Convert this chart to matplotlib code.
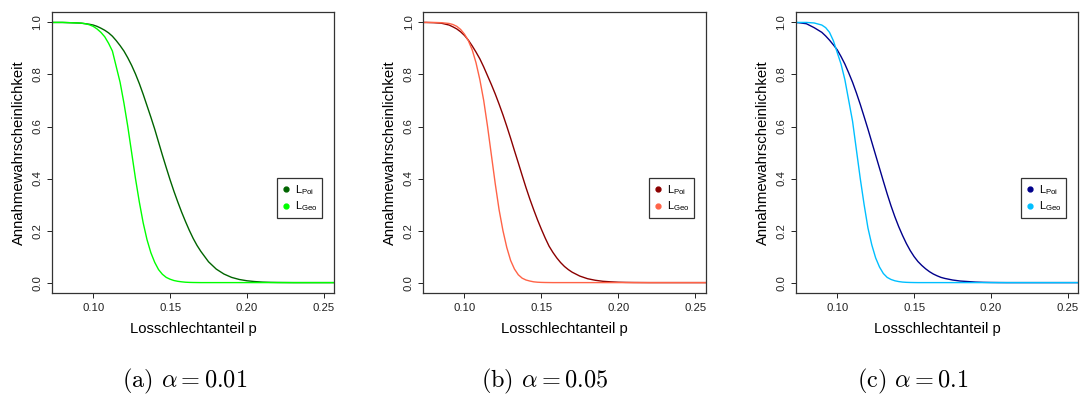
import matplotlib
matplotlib.use("Agg")
import matplotlib.pyplot as plt
from matplotlib.lines import Line2D

plt.rcParams['font.family'] = ['Liberation Sans', 'DejaVu Sans']
plt.rcParams['mathtext.default'] = 'regular'

# Losschlechtanteil p (grid the curves were read on)
p = [0.07, 0.075, 0.08, 0.085,
     0.09, 0.0925, 0.095, 0.0975, 0.10, 0.1025, 0.105, 0.1075,
     0.11, 0.1125, 0.115, 0.1175, 0.12, 0.1225, 0.125, 0.1275,
     0.13, 0.1325, 0.135, 0.1375, 0.14, 0.1425, 0.145, 0.1475,
     0.15, 0.1525, 0.155, 0.1575, 0.16, 0.1625, 0.165, 0.1675, 0.17,
     0.175, 0.18, 0.185, 0.19, 0.195, 0.20, 0.205, 0.21, 0.215, 0.22,
     0.23, 0.26]

# (a) alpha = 0.01
poi_a = [1.0, 1.0, 1.0, 0.999,
         0.998, 0.997, 0.995, 0.993, 0.99, 0.985, 0.978, 0.97,
         0.96, 0.947, 0.93, 0.911, 0.89, 0.864, 0.835, 0.802,
         0.765, 0.724, 0.68, 0.636, 0.59, 0.54, 0.49, 0.442,
         0.395, 0.351, 0.31, 0.271, 0.235, 0.201, 0.17, 0.143, 0.12,
         0.08, 0.052, 0.033, 0.02, 0.012, 0.007, 0.004, 0.002, 0.001, 0.0005,
         0.0, 0.0]
geo_a = [1.0, 1.0, 1.0, 0.999,
         0.998, 0.997, 0.995, 0.991, 0.985, 0.975, 0.962, 0.945,
         0.92, 0.89, 0.83, 0.77, 0.69, 0.60, 0.50, 0.40,
         0.31, 0.23, 0.165, 0.115, 0.078, 0.05, 0.032, 0.02,
         0.013, 0.008, 0.005, 0.003, 0.0015, 0.0008, 0.0004, 0.0002, 0.0,
         0.0, 0.0, 0.0, 0.0, 0.0, 0.0, 0.0, 0.0, 0.0, 0.0,
         0.0, 0.0]

# (b) alpha = 0.05
poi_b = [1.0, 1.0, 0.999, 0.997,
         0.99, 0.983, 0.975, 0.964, 0.95, 0.932, 0.91, 0.886,
         0.86, 0.829, 0.795, 0.761, 0.725, 0.686, 0.645, 0.601,
         0.555, 0.507, 0.46, 0.412, 0.365, 0.321, 0.28, 0.241,
         0.205, 0.171, 0.14, 0.116, 0.095, 0.077, 0.062, 0.05, 0.04,
         0.025, 0.015, 0.009, 0.005, 0.003, 0.0015, 0.0008, 0.0004, 0.0002, 0.0,
         0.0, 0.0]
geo_b = [1.0, 1.0, 1.0, 0.999,
         0.996, 0.992, 0.985, 0.973, 0.955, 0.93, 0.895, 0.845,
         0.78, 0.70, 0.60, 0.49, 0.38, 0.28, 0.20, 0.135,
         0.085, 0.052, 0.03, 0.017, 0.01, 0.006, 0.003, 0.0015,
         0.0008, 0.0004, 0.0002, 0.0, 0.0, 0.0, 0.0, 0.0, 0.0,
         0.0, 0.0, 0.0, 0.0, 0.0, 0.0, 0.0, 0.0, 0.0, 0.0,
         0.0, 0.0]

# (c) alpha = 0.1
poi_c = [1.0, 0.999, 0.995, 0.98,
         0.962, 0.948, 0.932, 0.914, 0.895, 0.869, 0.84, 0.806,
         0.77, 0.729, 0.685, 0.638, 0.59, 0.54, 0.49, 0.44,
         0.39, 0.341, 0.295, 0.253, 0.215, 0.181, 0.15, 0.123,
         0.10, 0.081, 0.066, 0.053, 0.042, 0.033, 0.026, 0.02, 0.016,
         0.01, 0.006, 0.004, 0.002, 0.001, 0.0005, 0.0002, 0.0, 0.0, 0.0,
         0.0, 0.0]
geo_c = [1.0, 1.0, 1.0, 0.998,
         0.99, 0.98, 0.962, 0.93, 0.885, 0.84, 0.78, 0.70,
         0.62, 0.51, 0.40, 0.30, 0.21, 0.145, 0.095, 0.06,
         0.035, 0.02, 0.012, 0.007, 0.004, 0.002, 0.001, 0.0005,
         0.0002, 0.0, 0.0, 0.0, 0.0, 0.0, 0.0, 0.0, 0.0,
         0.0, 0.0, 0.0, 0.0, 0.0, 0.0, 0.0, 0.0, 0.0, 0.0,
         0.0, 0.0]

panels = [
    (poi_a, geo_a, '#006400', '#00ff00', r'(a) $\mathit{\alpha} = 0.01$', 0.0481, 185),
    (poi_b, geo_b, '#8b0000', '#ff6347', r'(b) $\mathit{\alpha} = 0.05$', 0.3919, 545),
    (poi_c, geo_c, '#00008b', '#00bfff', r'(c) $\mathit{\alpha} = 0.1$', 0.7370, 913),
]

fig = plt.figure(figsize=(10.8, 4.01), dpi=100)

for poi, geo, c_poi, c_geo, caption, left, cap_x in panels:
    ax = fig.add_axes([left, 0.2693, 0.2615, 0.7007])
    ax.plot(p, poi, color=c_poi, lw=1.0)
    ax.plot(p, geo, color=c_geo, lw=1.0)
    ax.set_xlim(0.0732, 0.2568)
    ax.set_ylim(-0.04, 1.04)
    ax.set_xticks([0.10, 0.15, 0.20, 0.25])
    ax.set_xticklabels(['0.10', '0.15', '0.20', '0.25'])
    ax.set_yticks([0.0, 0.2, 0.4, 0.6, 0.8, 1.0])
    ax.set_yticklabels(['0.0', '0.2', '0.4', '0.6', '0.8', '1.0'],
                       rotation=90, va='center')
    ax.tick_params(labelsize=8.2, length=3.6, width=0.7, colors='#222222')
    ax.tick_params(axis='x', pad=3.3)
    ax.tick_params(axis='y', pad=3.3)
    for s in ax.spines.values():
        s.set_color('#333333')
        s.set_linewidth(0.9)
    ax.set_xlabel('Losschlechtanteil p', fontsize=10.7, labelpad=6.5)
    ax.set_ylabel('Annahmewahrscheinlichkeit', fontsize=10.7, labelpad=4.5)

    handles = [Line2D([], [], ls='none', marker='o', ms=3.5, color=c_poi),
               Line2D([], [], ls='none', marker='o', ms=3.5, color=c_geo)]
    leg = ax.legend(handles, [r'$L_{Poi}$', r'$L_{Geo}$'], loc='center',
                    bbox_to_anchor=(0.878, 0.338), fontsize=8,
                    fancybox=False, framealpha=1, edgecolor='#333333',
                    handlelength=0.8, handletextpad=0.4, borderpad=0.4,
                    labelspacing=0.25, borderaxespad=0)
    leg.get_frame().set_linewidth(0.9)

    fig.text(cap_x / 1080, 0.05, caption, ha='center', va='center',
             fontsize=17.5, family='cmr10', math_fontfamily='cm')

fig.savefig('out.png', dpi=100)
